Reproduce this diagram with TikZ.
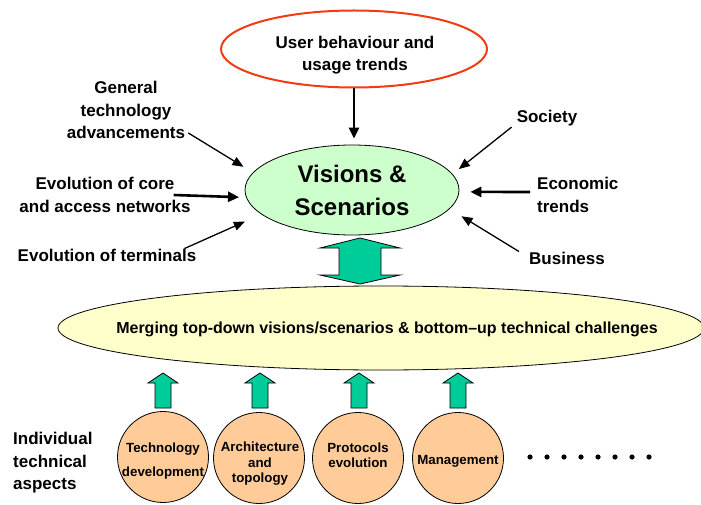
\documentclass[tikz,border=0pt]{standalone}
\usepackage{fontspec}
\setmainfont{Liberation Sans}
\usetikzlibrary{arrows.meta, shapes.geometric, calc, positioning}
\definecolor{usrRed}{HTML}{F03C14}
\definecolor{visGreen}{HTML}{CCFFCC}
\definecolor{mergeYellow}{HTML}{FFFFCC}
\definecolor{aspPeach}{HTML}{FFCC99}
\definecolor{blkTeal}{HTML}{00CC99}
\tikzset{
  inflow/.style     = {-{Triangle[length=11pt, width=9pt]}, line width=1.3pt, black},
  thickflow/.style  = {-{Triangle[length=11pt, width=10pt]}, line width=2.6pt, black},
  lbl/.style        = {font=\fontsize{17}{22.5}\selectfont\bfseries, inner sep=0pt},
  aspect/.style     = {circle, draw, line width=0.8pt, fill=aspPeach, minimum size=91pt,
                       inner sep=0pt},
  asptxt/.style     = {align=center, inner sep=0pt,
                       font=\fontsize{13.3}{15.5}\selectfont\bfseries},
  blockarrow/.style = {draw, line width=0.8pt, fill=blkTeal},
}

\begin{document}
% units are points, y runs downwards
\begin{tikzpicture}[x=1pt, y=-1pt]
\useasboundingbox (0,0) rectangle (701,505);

% ---- visions in the middle, driven from above ----------------------------
\node[ellipse, draw=usrRed, line width=2pt, minimum width=266, minimum height=77,
      inner sep=0pt] (user) at (354,49) {};
\node[lbl, align=center] (usertxt) at (355,55) {User behaviour and\\usage trends};
\node[ellipse, draw, line width=0.8pt, fill=visGreen, minimum width=214,
      minimum height=90, inner sep=0pt, align=center,
      font=\fontsize{24}{33}\selectfont\bfseries] (vis) at (352,190) {Visions \&\\Scenarios};
\draw[thickflow, shorten >=6pt] (user.south) -- (user.south |- vis.north);

% ---- outside drivers ------------------------------------------------------
\node[lbl, align=center] (gentech) at (126,110) {General\\technology\\advancements};
\node[lbl, align=center] (corenet) at (105,195) {Evolution of core\\and access networks};
\node[lbl] (term) at (107,255) {Evolution of terminals};
\node[lbl] (society) at (547,118) {Society};
\node[lbl, align=left, anchor=west] (econ) at (537,195) {Economic\\trends};
\node[lbl] (business) at (567,258) {Business};

\draw[inflow, shorten >=11pt] ($(gentech.south east)+(3,-6)$) -- (vis.170);
\draw[thickflow, shorten >=7pt] ($(corenet.east)+(-17,0)$) -- (vis.184);
\draw[inflow, shorten >=18pt] ($(term.north east)+(-12,0)$) -- (vis.195);
\draw[inflow, shorten >=8pt] ($(society.south west)+(-5,1)$) -- (vis.9);
\draw[thickflow, shorten >=11pt] ($(econ.west)+(-7,-3)$) -- (vis.-1);
\draw[inflow, shorten >=14pt] ($(business.north west)+(-10,0)$) -- (vis.-11);

% ---- merging ellipse ------------------------------------------------------
\node[ellipse, draw, line width=0.8pt, fill=mergeYellow, minimum width=646,
      minimum height=84, inner sep=0pt] (merge) at (381,328) {};
\node[font=\fontsize{16}{19}\selectfont\bfseries, inner sep=0pt] (mergetxt) at (387,329)
  {Merging top-down visions/scenarios \& bottom–up technical challenges};

\draw[blockarrow, shift={(360,261)}] (0,-23) -- (40,-13) -- (21,-13) -- (21,14)
  -- (40,14) -- (0,23) -- (-40,14) -- (-21,14) -- (-21,-13) -- (-40,-13) -- cycle;

% ---- technical aspects ----------------------------------------------------
\node[lbl, align=left, anchor=west] (indiv) at (13,463) {Individual\\technical\\aspects};
\node[aspect] (techdev) at (163,457) {};
\node[aspect] (arch)    at (259,458) {};
\node[aspect] (proto)   at (358,458) {};
\node[aspect] (mgmt)    at (458,458) {};
\node[asptxt] (techdevtxt) at (163,461) {Technology\\[8pt]development};
\node[asptxt] (archtxt)    at (260,464) {Architecture\\and\\topology};
\node[asptxt] (prototxt)   at (358,455) {Protocols\\evolution};
\node[asptxt] (mgmttxt)    at (458,461) {Management};

\foreach \cx in {163,260,359,458} {
  \draw[blockarrow, shift={(\cx,390)}] (0,-17) -- (15,-7) -- (8,-7) -- (8,18)
    -- (-8,18) -- (-8,-7) -- (-15,-7) -- cycle;
}
\foreach \i in {0,...,7} {
  \fill (530+17*\i,457) circle (2.6);
}
\end{tikzpicture}
\end{document}
